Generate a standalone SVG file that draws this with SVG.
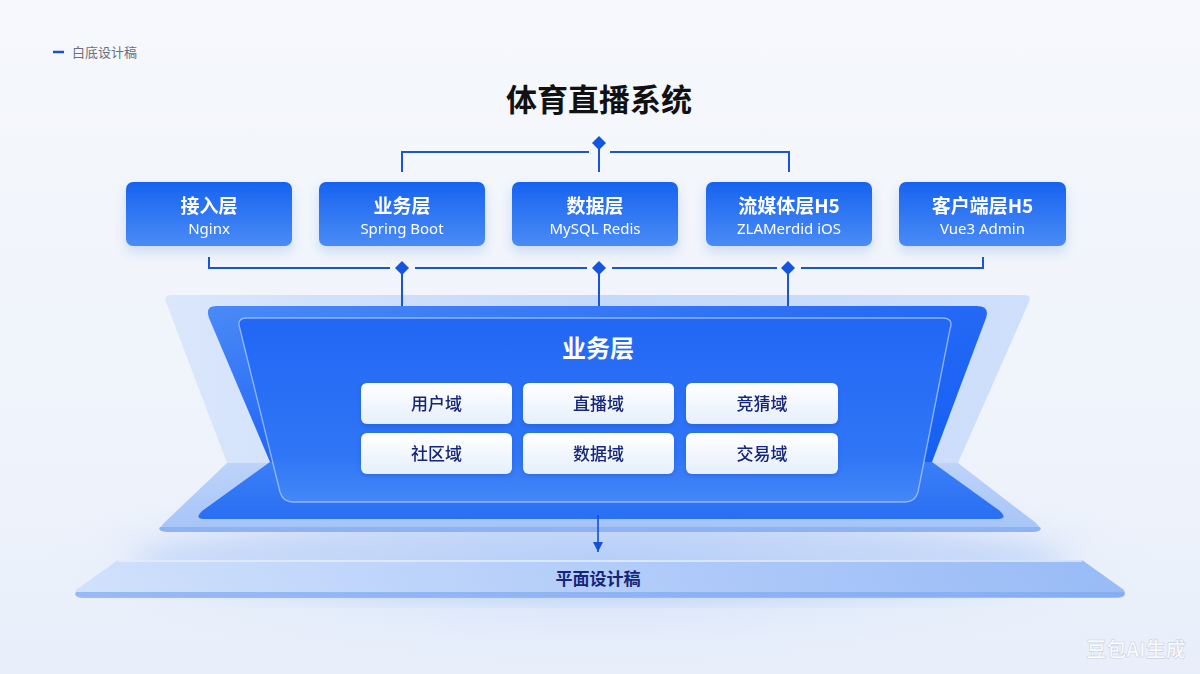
<svg xmlns="http://www.w3.org/2000/svg" width="1200" height="674" viewBox="0 0 1200 674">
<defs>
<linearGradient id="bg" x1="0" y1="0" x2="0" y2="1">
<stop offset="0" stop-color="#f6f8fc"/>
<stop offset="0.7" stop-color="#eef3fb"/>
<stop offset="1" stop-color="#e8effa"/>
</linearGradient>
<radialGradient id="haze" cx="0.5" cy="0.5" r="0.5">
<stop offset="0" stop-color="#b9d0f7" stop-opacity="0.7"/>
<stop offset="1" stop-color="#dbe7fb" stop-opacity="0"/>
</radialGradient>
<linearGradient id="boxg" x1="0" y1="0" x2="0" y2="1">
<stop offset="0" stop-color="#1763f0"/>
<stop offset="1" stop-color="#4a8bf6"/>
</linearGradient>
<linearGradient id="backLight" x1="0" y1="0" x2="1" y2="0">
<stop offset="0" stop-color="#d6e4fc"/>
<stop offset="0.5" stop-color="#bcd3fa"/>
<stop offset="1" stop-color="#c9dcfb"/>
</linearGradient>
<linearGradient id="floorLight" x1="0" y1="0" x2="0" y2="1">
<stop offset="0" stop-color="#b7cffa"/>
<stop offset="1" stop-color="#9fc0f7"/>
</linearGradient>
<linearGradient id="darkPanel" x1="0" y1="0" x2="1" y2="1">
<stop offset="0" stop-color="#4a8af6"/>
<stop offset="0.5" stop-color="#2468f5"/>
<stop offset="1" stop-color="#1460f3"/>
</linearGradient>
<linearGradient id="darkFloor" x1="0" y1="0" x2="0" y2="1">
<stop offset="0" stop-color="#3a7ff6"/>
<stop offset="1" stop-color="#2a6ef4"/>
</linearGradient>
<linearGradient id="innerPanel" x1="0" y1="0" x2="0" y2="1">
<stop offset="0" stop-color="#2267f5"/>
<stop offset="0.75" stop-color="#2f76f6"/>
<stop offset="1" stop-color="#4587f7"/>
</linearGradient>
<linearGradient id="domg" x1="0" y1="0" x2="0" y2="1">
<stop offset="0" stop-color="#ffffff"/>
<stop offset="1" stop-color="#e6effc"/>
</linearGradient>
<linearGradient id="plat" x1="0" y1="0" x2="1" y2="0">
<stop offset="0" stop-color="#cfe0fb"/>
<stop offset="0.5" stop-color="#b3cdf9"/>
<stop offset="1" stop-color="#94b8f6"/>
</linearGradient>
<filter id="sh" x="-20%" y="-30%" width="140%" height="170%">
<feDropShadow dx="0" dy="6" stdDeviation="6" flood-color="#2a5cc8" flood-opacity="0.18"/>
</filter>
<filter id="sh2" x="-20%" y="-30%" width="140%" height="170%">
<feDropShadow dx="0" dy="2" stdDeviation="2" flood-color="#0b3aa8" flood-opacity="0.25"/>
</filter>
<filter id="blur"><feGaussianBlur stdDeviation="14"/></filter>
<marker id="arr" viewBox="0 0 10 10" refX="10" refY="5" markerWidth="10" markerHeight="10" orient="auto" markerUnits="userSpaceOnUse">
<path d="M0,0 L10,5 L0,10 Z" fill="#1550d8"/>
</marker>
<style>
.tt{font-family:"Noto Sans CJK SC","Noto Sans",sans-serif;font-weight:700;fill:#ffffff;text-anchor:middle}
.st{font-family:"Noto Sans","Noto Sans CJK SC",sans-serif;font-weight:400;fill:#ffffff;text-anchor:middle;font-size:15px}
.dm{font-family:"Noto Sans CJK SC",sans-serif;font-weight:500;fill:#15267a;text-anchor:middle;font-size:17px}
.ln{stroke:#1a55d6;stroke-width:2;fill:none}
.dia{fill:#1455e0}
</style>
</defs>

<rect width="1200" height="674" fill="url(#bg)"/>
<ellipse cx="600" cy="560" rx="560" ry="110" fill="url(#haze)"/>

<g id="legend">
<line x1="53" y1="52" x2="64" y2="52" stroke="#1a4fd0" stroke-width="2.5"/>
<text x="72" y="57" font-family="Noto Sans CJK SC,sans-serif" font-size="13" fill="#6a7080">白底设计稿</text>
</g>

<text id="title" x="599" y="111" font-family="Noto Sans CJK SC,sans-serif" font-weight="700" font-size="31" fill="#111111" text-anchor="middle">体育直播系统</text>

<g id="base">
<ellipse cx="600" cy="560" rx="470" ry="40" fill="#a8c4f7" opacity="0.5" filter="url(#blur)"/>
<path d="M118,560 L1082,560 L1124,590 Q1127,597 1118,597 L82,597 Q73,597 76,590 Z" fill="url(#plat)" opacity="0.95"/>
<path d="M76,592 L1124,592 Q1127,597 1118,598 L82,598 Q73,597 76,592 Z" fill="#7fa8f2" opacity="0.7"/>
<line x1="118" y1="561" x2="1082" y2="561" stroke="#e6effd" stroke-width="1.5"/>
<text x="598" y="585" font-family="Noto Sans CJK SC,sans-serif" font-weight="700" font-size="17" fill="#15267a" text-anchor="middle">平面设计稿</text>
</g>

<g id="platform">
<path d="M172,295 L1024,295 Q1032,295 1029,302 L958,463 L227,463 L166,302 Q163,295 172,295 Z" fill="url(#backLight)" opacity="0.85"/>
<path d="M227,463 L958,463 L1036,523 Q1043,530 1034,530 L166,530 Q157,530 164,523 Z" fill="url(#floorLight)" opacity="0.9"/>
<path d="M160,527 L1040,527 Q1043,531 1034,532 L166,532 Q157,531 160,527 Z" fill="#8eb3f5"/>
<path d="M216,306 L977,306 Q990,306 986,318 L932,462 L270,462 L209,318 Q205,306 216,306 Z" fill="url(#darkPanel)"/>
<path d="M270,462 L932,462 L1000,511 Q1008,519 998,519 L204,519 Q194,519 202,511 Z" fill="url(#darkFloor)"/>
<path d="M247,318 L942,318 Q954,318 950,329 L918,492 Q915,502 905,502 L293,502 Q283,502 280,492 L240,329 Q236,318 247,318 Z" fill="url(#innerPanel)" stroke="#a9c8ff" stroke-opacity="0.8" stroke-width="1.3"/>
<text class="tt" x="598" y="357" font-size="24">业务层</text>
</g>

<g id="domains">
<g id="d-user" filter="url(#sh2)"><rect x="361" y="383" width="151" height="41" rx="6" fill="url(#domg)"/><text class="dm" x="436.5" y="410">用户域</text></g>
<g id="d-live" filter="url(#sh2)"><rect x="523" y="383" width="151" height="41" rx="6" fill="url(#domg)"/><text class="dm" x="598.5" y="410">直播域</text></g>
<g id="d-guess" filter="url(#sh2)"><rect x="686" y="383" width="152" height="41" rx="6" fill="url(#domg)"/><text class="dm" x="762" y="410">竞猜域</text></g>
<g id="d-comm" filter="url(#sh2)"><rect x="361" y="433" width="151" height="41" rx="6" fill="url(#domg)"/><text class="dm" x="436.5" y="460">社区域</text></g>
<g id="d-data" filter="url(#sh2)"><rect x="523" y="433" width="151" height="41" rx="6" fill="url(#domg)"/><text class="dm" x="598.5" y="460">数据域</text></g>
<g id="d-trade" filter="url(#sh2)"><rect x="686" y="433" width="152" height="41" rx="6" fill="url(#domg)"/><text class="dm" x="762" y="460">交易域</text></g>
</g>

<g id="connectors">
<path class="ln" d="M402,172 V152 H589"/>
<path class="ln" d="M610,152 H789 V172"/>
<line class="ln" x1="599" y1="146" x2="599" y2="172"/>
<path class="dia" d="M599,136 L606,143 L599,150 L592,143 Z"/>
<path class="ln" d="M209,257 V268 H390"/>
<line class="ln" x1="415" y1="268" x2="587" y2="268"/>
<line class="ln" x1="612" y1="268" x2="777" y2="268"/>
<path class="ln" d="M801,268 H983 V257"/>
<line class="ln" x1="402" y1="268" x2="402" y2="306"/>
<line class="ln" x1="599" y1="268" x2="599" y2="306"/>
<line class="ln" x1="788" y1="268" x2="788" y2="306"/>
<path class="dia" d="M402,261 L409,268 L402,275 L395,268 Z"/>
<path class="dia" d="M599,261 L606,268 L599,275 L592,268 Z"/>
<path class="dia" d="M788,261 L795,268 L788,275 L781,268 Z"/>
<line x1="598" y1="515" x2="598" y2="552" stroke="#1550d8" stroke-width="1.6" marker-end="url(#arr)"/>
</g>

<g id="n-access" filter="url(#sh)"><rect x="126" y="182" width="166" height="64" rx="7" fill="url(#boxg)"/><text class="tt" x="209" y="213" font-size="19">接入层</text><text class="st" x="209" y="234">Nginx</text></g>
<g id="n-biz" filter="url(#sh)"><rect x="319" y="182" width="166" height="64" rx="7" fill="url(#boxg)"/><text class="tt" x="402" y="213" font-size="19">业务层</text><text class="st" x="402" y="234">Spring Boot</text></g>
<g id="n-data" filter="url(#sh)"><rect x="512" y="182" width="166" height="64" rx="7" fill="url(#boxg)"/><text class="tt" x="595" y="213" font-size="19">数据层</text><text class="st" x="595" y="234">MySQL Redis</text></g>
<g id="n-media" filter="url(#sh)"><rect x="706" y="182" width="166" height="64" rx="7" fill="url(#boxg)"/><text class="tt" x="789" y="213" font-size="19">流媒体层H5</text><text class="st" x="789" y="234">ZLAMerdid iOS</text></g>
<g id="n-client" filter="url(#sh)"><rect x="899" y="182" width="167" height="64" rx="7" fill="url(#boxg)"/><text class="tt" x="982.5" y="213" font-size="19">客户端层H5</text><text class="st" x="982.5" y="234">Vue3 Admin</text></g>

<text x="1136" y="657" font-family="Noto Sans CJK SC,sans-serif" font-weight="700" font-size="20" fill="#ffffff" fill-opacity="0.85" stroke="#c8d2e0" stroke-width="0.6" text-anchor="middle">豆包AI生成</text>
</svg>
